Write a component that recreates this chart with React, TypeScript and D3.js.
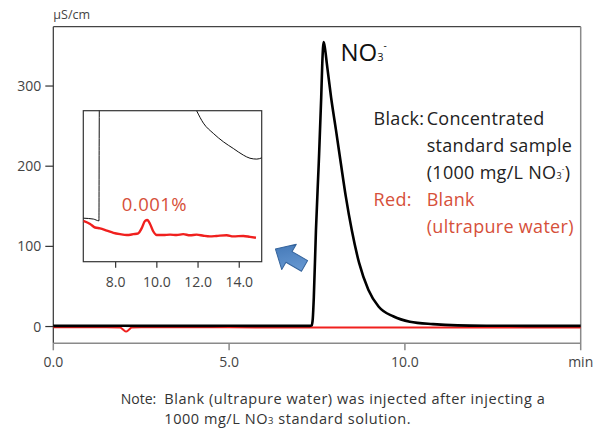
import React from "react";
import * as d3 from "d3";

// axis ticks
const xTicks = [0, 5, 10];
const xTickLabels = ["0.0", "5.0", "10.0"];
const yTicks = [0, 100, 200, 300];
const insetTicks = [8, 10, 12, 14];
const insetTickLabels = ["8.0", "10.0", "12.0", "14.0"];

// main chromatogram, μS/cm vs min
const blackTime = [0, 1, 2, 3, 4, 5, 6, 7, 7.29, 7.35, 7.38, 7.41, 7.47, 7.55, 7.62, 7.65, 7.69, 7.73, 7.78, 7.9, 8.04, 8.18, 8.32, 8.49, 8.7, 8.96, 9.25, 9.68, 10.14, 10.8, 11.5, 12.5, 13.5, 15];
const blackValue = [0.8, 0.8, 0.9, 0.8, 0.8, 0.9, 0.8, 0.8, 0.8, 1.5, 10, 37, 120, 204, 286, 328, 355, 346, 328, 286, 245, 203, 162, 120, 79, 46, 25, 12.5, 6, 3, 1.5, 1, 0.8, 0.8];
const redTime = [0, 1.5, 1.9, 1.99, 2.07, 2.15, 2.23, 2.5, 5, 7.3, 10, 12.5, 15];
const redValue = [-1, -1, -1.2, -4, -6.2, -4, -1.3, -1, -1, -1.2, -1.3, -1.2, -1.2];

// magnified view (relative units)
const insetBlackTime = [6.43, 6.92, 7.19, 7.2, 7.22, 11.8, 11.93, 12.26, 12.74, 13.23, 13.71, 14.2, 14.52, 14.85, 15.1];
const insetBlackValue = [3.8, 3.6, 3.2, 20, 40, NaN, 28, 25.2, 22.9, 21, 19.5, 18, 17.3, 17.1, 17.4];
const insetRedTime = [6.43, 6.76, 7.0, 7.24, 7.57, 7.89, 8.21, 8.54, 8.86, 9.1, 9.26, 9.43, 9.54, 9.67, 9.83, 9.99, 10.31, 10.64, 10.96, 11.28, 11.61, 11.93, 12.26, 12.58, 12.9, 13.39, 13.71, 14.2, 14.52, 14.81];
const insetRedValue = [3.2, 2.5, 1.7, 1.5, 1.0, 0.5, 0.2, 0, 0.2, 0.4, 1.5, 3.2, 3.4, 2.5, 0.8, 0, 0, 0.1, 0, 0.2, -0.05, 0.1, -0.15, -0.3, -0.2, -0.05, -0.3, -0.2, -0.4, -0.6];

const font = "'Open Sans', sans-serif";

export default function App() {
  const left = 53.3, right = 580.7, top = 26.7, bottom = 343.3;
  const x = d3.scaleLinear().domain([0, 15]).range([left, right]);
  const y = d3.scaleLinear().domain([-20.9, 374]).range([bottom, top]);

  const ix0 = 83.3, ix1 = 261.7, iy0 = 110.7, iy1 = 261.7;
  const ix = d3.scaleLinear().domain([6.43, 15.09]).range([ix0, ix1]);
  const iy = d3.scaleLinear().domain([-6, 28]).range([iy1, iy0]);

  const blackPath = d3
    .line<number>()
    .x((d) => x(d))
    .y((d, i) => y(blackValue[i]))
    .curve(d3.curveMonotoneX)(blackTime);
  const redPath = d3
    .line<number>()
    .x((d) => x(d))
    .y((d, i) => y(redValue[i]))
    .curve(d3.curveMonotoneX)(redTime);

  const insetBlackPath = d3
    .line<number>()
    .defined((d, i) => !isNaN(insetBlackValue[i]))
    .x((d) => ix(d))
    .y((d, i) => iy(insetBlackValue[i]))
    .curve(d3.curveMonotoneX)(insetBlackTime);
  const insetRedPath = d3
    .line<number>()
    .x((d) => ix(d))
    .y((d, i) => iy(insetRedValue[i]))
    .curve(d3.curveMonotoneX)(insetRedTime);

  const legendRed = "#d6503a";

  return (
    <svg width={597} height={433} style={{ position: "absolute", left: 0, top: 0, background: "#fff" }} fontFamily={font}>
      <defs>
        <clipPath id="insetClip">
          <rect x={ix0} y={iy0} width={ix1 - ix0} height={iy1 - iy0} />
        </clipPath>
        <linearGradient id="arrowGrad" x1="0" y1="0" x2="1" y2="1">
          <stop offset="0%" stopColor="#6fa0d8" />
          <stop offset="100%" stopColor="#3d72b2" />
        </linearGradient>
      </defs>

      {/* frame */}
      <line x1={left} x2={right} y1={top} y2={top} stroke="#444" strokeWidth={1.2} />
      <line x1={left} x2={left} y1={top} y2={bottom} stroke="#333" strokeWidth={1.2} />
      <line x1={left} x2={right} y1={bottom} y2={bottom} stroke="#8a8a8a" strokeWidth={1.5} />
      <line x1={right} x2={right} y1={top} y2={bottom + 7} stroke="#8a8a8a" strokeWidth={1.5} />

      {/* y axis */}
      <text x={left} y={19} fontSize={12.5} fill="#444">μS/cm</text>
      {yTicks.map((t) => (
        <g key={t}>
          <line x1={left - 8} x2={left} y1={y(t)} y2={y(t)} stroke="#333" strokeWidth={1.2} />
          <text x={left - 12} y={y(t) + 5} fontSize={14} fill="#444" textAnchor="end">{t}</text>
        </g>
      ))}

      {/* x axis */}
      {xTicks.map((t, i) => (
        <g key={t}>
          <line x1={x(t)} x2={x(t)} y1={bottom} y2={bottom + 7} stroke="#8a8a8a" strokeWidth={1.5} />
          <text x={x(t)} y={bottom + 24} fontSize={14} fill="#444" textAnchor="middle">{xTickLabels[i]}</text>
        </g>
      ))}
      <text x={right} y={bottom + 24} fontSize={14} fill="#444" textAnchor="middle">min</text>

      {/* traces */}
      <path d={redPath || ""} fill="none" stroke="#f0201e" strokeWidth={2} />
      <path d={blackPath || ""} fill="none" stroke="#000" strokeWidth={2.6} strokeLinejoin="round" />

      {/* peak label */}
      <text x={340.5} y={61} fontSize={24} fill="#111">
        NO<tspan fontSize={11}>3</tspan>
        <tspan fontSize={10} dy={-12}>-</tspan>
      </text>

      {/* legend */}
      <g fontSize={18} letterSpacing={0.3}>
        <text x={373.6} y={125} fill="#222">Black:</text>
        <text x={426.7} y={125} fill="#222">Concentrated</text>
        <text x={426.7} y={151.6} fill="#222">standard sample</text>
        <text x={426.7} y={178.6} fill="#222">
          (1000 mg/L NO<tspan fontSize={9}>3</tspan><tspan fontSize={8} dy={-8}>-</tspan><tspan dy={8}>)</tspan>
        </text>
        <text x={373.6} y={206.4} fill={legendRed}>Red:</text>
        <text x={426.7} y={206.4} fill={legendRed}>Blank</text>
        <text x={426.7} y={232.7} fill={legendRed}>(ultrapure water)</text>
      </g>

      {/* inset */}
      <rect x={ix0} y={iy0} width={ix1 - ix0} height={iy1 - iy0} fill="#fff" stroke="#333" strokeWidth={1.2} />
      <g clipPath="url(#insetClip)">
        <path d={insetBlackPath || ""} fill="none" stroke="#111" strokeWidth={1} />
        <path d={insetRedPath || ""} fill="none" stroke="#f0201e" strokeWidth={2.4} />
      </g>
      {insetTicks.map((t, i) => (
        <g key={t}>
          <line x1={ix(t)} x2={ix(t)} y1={iy1} y2={iy1 + 6} stroke="#333" strokeWidth={1.2} />
          <text x={ix(t)} y={iy1 + 25} fontSize={14} fill="#444" textAnchor="middle">{insetTickLabels[i]}</text>
        </g>
      ))}
      <text x={121.7} y={211} fontSize={18.5} fill={legendRed} letterSpacing={0.5}>0.001%</text>

      {/* arrow */}
      <g transform="translate(290,257.5) rotate(-150) scale(1.12)">
        <polygon
          points="15,0 1,-13 1,-5.5 -15,-5.5 -15,5.5 1,5.5 1,13"
          fill="url(#arrowGrad)"
          stroke="#35649c"
          strokeWidth={0.9}
          strokeLinejoin="round"
        />
      </g>

      {/* note */}
      <g fontSize={14.5} fill="#333">
        <text x={120.7} y={404} fontSize={14}>Note:</text>
        <text x={164.3} y={404} letterSpacing={0.55}>Blank (ultrapure water) was injected after injecting a</text>
        <text x={164.3} y={424} letterSpacing={0.55}>
          1000 mg/L NO<tspan fontSize={9.5}>3</tspan> standard solution.
        </text>
      </g>
    </svg>
  );
}
